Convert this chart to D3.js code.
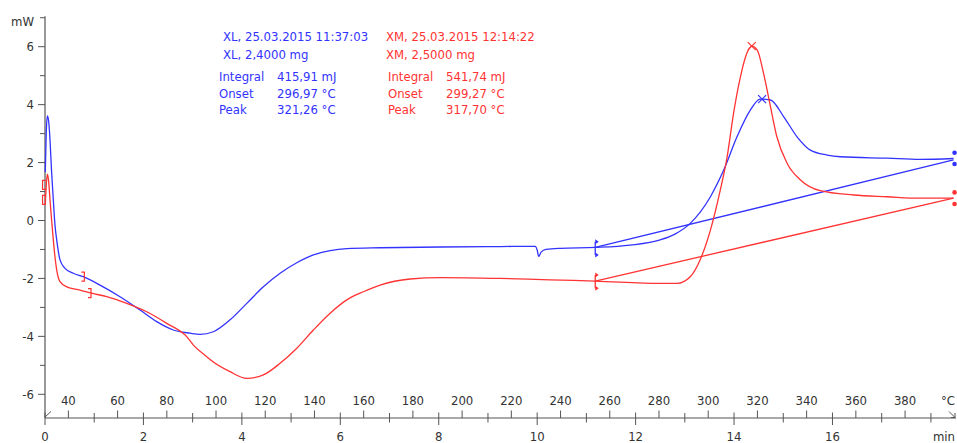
<!DOCTYPE html>
<html>
<head>
<meta charset="utf-8">
<script src="https://cdn.jsdelivr.net/npm/d3@7"></script>
<style>
  body { margin: 0; background: #fff; }
  svg text { font-family: 'DejaVu Sans Condensed', 'DejaVu Sans', sans-serif; }
</style>
</head>
<body>
<div id="chart"></div>
<script>
// time [min], heat flow [mW]
const xlCurve = [
  [0.006, 1.67], [0.024, 2.95], [0.047, 3.61], [0.071, 3.47], [0.102, 2.78],
  [0.132, 1.74], [0.169, 0.71], [0.203, -0.16], [0.238, -0.67], [0.305, -1.36],
  [0.407, -1.65], [0.575, -1.82], [0.778, -1.94], [1.118, -2.23], [1.524, -2.63],
  [1.931, -3.09], [2.27, -3.49], [2.608, -3.78], [2.947, -3.89], [3.15, -3.93],
  [3.421, -3.84], [3.76, -3.43], [4.1, -2.86], [4.437, -2.29], [4.776, -1.82],
  [5.116, -1.46], [5.453, -1.19], [5.793, -1.04], [6.132, -0.97], [6.809, -0.94],
  [8.03, -0.915], [9.25, -0.9], [9.96, -0.89], [10.0, -1.02], [10.03, -1.24],
  [10.08, -1.09], [10.18, -1.0], [10.47, -0.96], [11.18, -0.93], [11.89, -0.85],
  [12.5, -0.67], [12.8, -0.47], [13.11, -0.1], [13.52, 0.82], [13.79, 1.74],
  [14.06, 2.89], [14.33, 3.81], [14.53, 4.19], [14.74, 4.16], [15.01, 3.58],
  [15.28, 2.89], [15.55, 2.43], [15.89, 2.26], [16.16, 2.2], [17.11, 2.15],
  [17.78, 2.11], [18.46, 2.14],
]

const xmCurve = [
  [0.006, 0.54], [0.026, 1.23], [0.047, 1.6], [0.071, 1.4], [0.102, 0.71],
  [0.134, 0.02], [0.169, -0.67], [0.203, -1.26], [0.238, -1.71], [0.305, -2.11],
  [0.441, -2.29], [0.711, -2.4], [0.949, -2.51], [1.254, -2.63], [1.661, -2.86],
  [2.067, -3.15], [2.474, -3.55], [2.88, -4.01], [3.015, -4.3], [3.287, -4.7],
  [3.354, -4.8], [3.76, -5.22], [4.1, -5.45], [4.437, -5.33], [4.776, -4.93],
  [5.116, -4.41], [5.453, -3.78], [5.793, -3.2], [6.132, -2.74], [6.47, -2.46],
  [6.809, -2.23], [7.42, -2.02], [8.03, -1.97], [9.25, -2.0], [10.26, -2.05],
  [11.18, -2.09], [12.5, -2.17], [12.84, -2.17], [13.11, -1.94], [13.31, -1.36],
  [13.52, -0.33], [13.72, 1.05], [13.86, 2.2], [13.99, 3.7], [14.13, 4.96],
  [14.26, 5.77], [14.36, 6.02], [14.47, 5.89], [14.6, 5.08], [14.74, 3.93],
  [14.87, 2.89], [15.08, 1.97], [15.35, 1.4], [15.75, 1.03], [16.43, 0.88],
  [17.11, 0.82], [17.78, 0.77], [18.46, 0.77],
]

// integration baselines [start, end]
const xlBaseline = [[11.18, -0.93], [18.46, 2.09]]
const xmBaseline = [[11.18, -2.09], [18.46, 0.77]]

const xlPeak = [14.57, 4.19]
const xmPeak = [14.36, 6.02]

// integration limit markers: [time, low, high]
const xlLimits = [[11.18, -1.19, -0.73], [18.46, 1.95, 2.34]]
const xmLimits = [[11.18, -2.34, -1.88], [18.46, 0.57, 0.97]]

// evaluation range brackets on XM: [time, value, side]
const xmBrackets = [[-0.05, 1.23, 'open'], [-0.05, 0.71, 'open'], [0.8, -1.94, 'close'], [0.935, -2.51, 'close']]

const mwTicks = [-6, -4, -2, 0, 2, 4, 6]
const mwMinorTicks = [-5, -3, -1, 1, 3, 5, 7]
const minTicks = [0, 2, 4, 6, 8, 10, 12, 14, 16]
const minMinorTicks = [1, 3, 5, 7, 9, 11, 13, 15, 17, 18]
const tempTicks = [40, 60, 80, 100, 120, 140, 160, 180, 200, 220, 240, 260, 280, 300, 320, 340, 360, 380]

const xlHeader = ['XL, 25.03.2015 11:37:03', 'XL, 2,4000 mg']
const xmHeader = ['XM, 25.03.2015 12:14:22', 'XM, 2,5000 mg']
const resultNames = ['Integral', 'Onset', 'Peak']
const xlResults = ['415,91 mJ', '296,97 °C', '321,26 °C']
const xmResults = ['541,74 mJ', '299,27 °C', '317,70 °C']

const BLUE = '#3333ff'
const RED = '#ff3333'
const AXIS = '#555'
const TEXT = '#333'

// heating 20 K/min from 30.5 °C
const tempToTime = T => (T - 30.5) / 20

function buildChart() {
  const canvasWidth = 957
  const canvasHeight = 443

  const xScale = d3.scaleLinear().domain([0, 18.53]).range([45, 957])
  const yScale = d3.scaleLinear().domain([-6, 6]).range([394.3, 46.7])
  const axisY = 418
  const yTop = yScale(7.05)

  const svg = d3
    .select('#chart')
    .append('svg')
    .attr('width', canvasWidth)
    .attr('height', canvasHeight)

  // y axis
  const yAxis = svg.append('g')
  yAxis
    .append('line')
    .attr('x1', 45).attr('x2', 45)
    .attr('y1', yTop).attr('y2', axisY)
    .attr('stroke', AXIS)
    .attr('stroke-width', 1.2)
  yAxis
    .selectAll('line.major')
    .data(mwTicks)
    .enter()
    .append('line')
    .attr('x1', 38).attr('x2', 45)
    .attr('y1', d => yScale(d)).attr('y2', d => yScale(d))
    .attr('stroke', AXIS)
  yAxis
    .selectAll('line.minor')
    .data(mwMinorTicks)
    .enter()
    .append('line')
    .attr('x1', 40).attr('x2', 45)
    .attr('y1', d => yScale(d)).attr('y2', d => yScale(d))
    .attr('stroke', AXIS)
  yAxis
    .selectAll('text')
    .data(mwTicks)
    .enter()
    .append('text')
    .attr('x', 34)
    .attr('y', d => yScale(d))
    .attr('dy', '0.35em')
    .attr('text-anchor', 'end')
    .attr('font-size', 13)
    .attr('fill', TEXT)
    .text(d => d)
  svg
    .append('text')
    .attr('x', 34)
    .attr('y', 21)
    .attr('dy', '0.35em')
    .attr('text-anchor', 'end')
    .attr('font-size', 13)
    .attr('fill', TEXT)
    .text('mW')

  // x axis (time below, temperature above)
  const xAxis = svg.append('g')
  xAxis
    .append('line')
    .attr('x1', 45).attr('x2', 956)
    .attr('y1', axisY).attr('y2', axisY)
    .attr('stroke', AXIS)
    .attr('stroke-width', 1.2)
  xAxis
    .selectAll('line.min')
    .data(minTicks)
    .enter()
    .append('line')
    .attr('x1', d => xScale(d)).attr('x2', d => xScale(d))
    .attr('y1', 412.5).attr('y2', 425)
    .attr('stroke', AXIS)
  xAxis
    .selectAll('line.minMinor')
    .data(minMinorTicks)
    .enter()
    .append('line')
    .attr('x1', d => xScale(d)).attr('x2', d => xScale(d))
    .attr('y1', 413).attr('y2', 422.5)
    .attr('stroke', AXIS)
  xAxis
    .selectAll('line.temp')
    .data(tempTicks)
    .enter()
    .append('line')
    .attr('x1', d => xScale(tempToTime(d))).attr('x2', d => xScale(tempToTime(d)))
    .attr('y1', 410.5).attr('y2', axisY)
    .attr('stroke', AXIS)
  xAxis
    .selectAll('text.min')
    .data(minTicks)
    .enter()
    .append('text')
    .attr('x', d => xScale(d))
    .attr('y', 436.5)
    .attr('dy', '0.35em')
    .attr('text-anchor', 'middle')
    .attr('font-size', 13)
    .attr('fill', TEXT)
    .text(d => d)
  xAxis
    .selectAll('text.temp')
    .data(tempTicks)
    .enter()
    .append('text')
    .attr('x', d => xScale(tempToTime(d)))
    .attr('y', 400.5)
    .attr('dy', '0.35em')
    .attr('text-anchor', 'middle')
    .attr('font-size', 13)
    .attr('fill', TEXT)
    .text(d => d)
  xAxis
    .append('text')
    .attr('x', 955).attr('y', 436.5).attr('dy', '0.35em')
    .attr('text-anchor', 'end')
    .attr('font-size', 13)
    .attr('fill', TEXT)
    .text('min')
  xAxis
    .append('text')
    .attr('x', 955).attr('y', 400.5).attr('dy', '0.35em')
    .attr('text-anchor', 'end')
    .attr('font-size', 13)
    .attr('fill', TEXT)
    .text('°C')
  // temperature axis end marks
  xAxis
    .append('path')
    .attr('d', 'M45,417 L51,411.5')
    .attr('stroke', AXIS)
    .attr('fill', 'none')
  xAxis
    .append('path')
    .attr('d', 'M949,411.5 L955,417.5 M955,413 L955,417.5 L951,417.5')
    .attr('stroke', AXIS)
    .attr('fill', 'none')

  const line = d3
    .line()
    .x(d => xScale(d[0]))
    .y(d => yScale(d[1]))
    .curve(d3.curveMonotoneX)

  const series = [
    {color: BLUE, curve: xlCurve, baseline: xlBaseline, peak: xlPeak, limits: xlLimits},
    {color: RED, curve: xmCurve, baseline: xmBaseline, peak: xmPeak, limits: xmLimits},
  ]

  series.forEach(s => {
    const g = svg.append('g')
    g.append('path')
      .attr('d', line(s.curve))
      .attr('fill', 'none')
      .attr('stroke', s.color)
      .attr('stroke-width', 1.3)
    g.append('path')
      .attr('d', d3.line().x(d => xScale(d[0])).y(d => yScale(d[1]))(s.baseline))
      .attr('fill', 'none')
      .attr('stroke', s.color)
      .attr('stroke-width', 1.3)

    // peak cross
    const px = xScale(s.peak[0])
    const py = yScale(s.peak[1])
    g.append('path')
      .attr('d', `M${px - 4},${py - 4}L${px + 4},${py + 4}M${px - 4},${py + 4}L${px + 4},${py - 4}`)
      .attr('stroke', s.color)
      .attr('stroke-width', 1.2)

    // left limit: bar with flags
    const [t0, lo0, hi0] = s.limits[0]
    const lx = xScale(t0)
    g.append('line')
      .attr('x1', lx).attr('x2', lx)
      .attr('y1', yScale(hi0)).attr('y2', yScale(lo0))
      .attr('stroke', s.color)
      .attr('stroke-width', 1.3)
    ;[hi0, lo0].forEach(v => {
      const y = yScale(v)
      g.append('path')
        .attr('d', `M${lx},${y - 2.5}L${lx + 3.5},${y}L${lx},${y + 2.5}Z`)
        .attr('fill', s.color)
    })

    // right limit: dots
    const [t1, lo1, hi1] = s.limits[1]
    ;[hi1, lo1].forEach(v => {
      g.append('circle')
        .attr('cx', xScale(t1) + 1)
        .attr('cy', yScale(v))
        .attr('r', 2.3)
        .attr('fill', s.color)
    })
  })

  // range brackets
  svg
    .selectAll('path.bracket')
    .data(xmBrackets)
    .enter()
    .append('path')
    .attr('d', d => {
      const x = xScale(d[0])
      const y = yScale(d[1])
      const w = d[2] === 'open' ? 3 : -3
      return `M${x + w},${y - 4.5}L${x},${y - 4.5}L${x},${y + 4.5}L${x + w},${y + 4.5}`
    })
    .attr('fill', 'none')
    .attr('stroke', RED)
    .attr('stroke-width', 1.2)

  // annotation blocks
  const legend = [
    {color: BLUE, header: xlHeader, results: xlResults, hx: 223, nx: 219, vx: 277},
    {color: RED, header: xmHeader, results: xmResults, hx: 386, nx: 388, vx: 446},
  ]
  legend.forEach(l => {
    const g = svg.append('g').attr('fill', l.color).attr('font-size', 13)
    l.header.forEach((h, i) => {
      g.append('text')
        .attr('x', l.hx)
        .attr('y', 36.7 + i * 17.3)
        .attr('dy', '0.35em')
        .text(h)
    })
    resultNames.forEach((n, i) => {
      g.append('text')
        .attr('x', l.nx)
        .attr('y', 76.7 + i * 16.3)
        .attr('dy', '0.35em')
        .text(n)
      g.append('text')
        .attr('x', l.vx)
        .attr('y', 76.7 + i * 16.3)
        .attr('dy', '0.35em')
        .text(l.results[i])
    })
  })
}

buildChart()
</script>
</body>
</html>
